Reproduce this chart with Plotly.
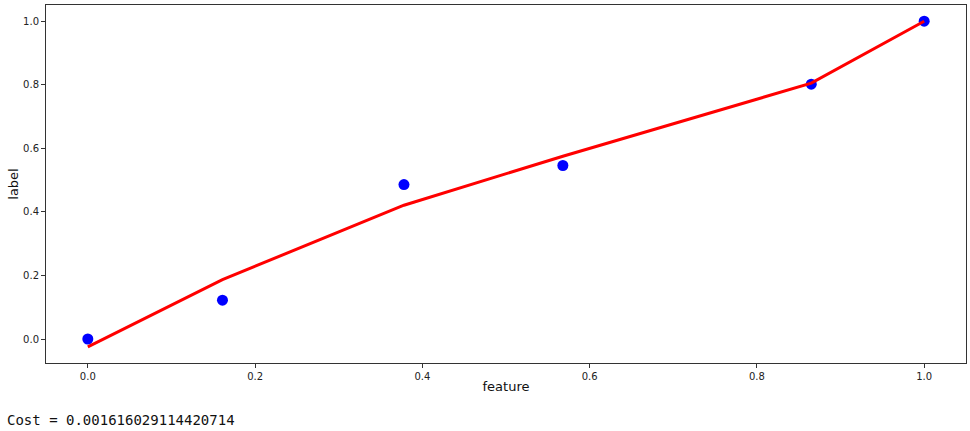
import plotly.graph_objects as go

feature = [0.0, 0.161, 0.378, 0.568, 0.865, 1.0]
label = [0.0, 0.122, 0.486, 0.546, 0.802, 1.0]
predicted = [-0.025, 0.187, 0.421, 0.575, 0.805, 1.0]
cost_text = "Cost = 0.001616029114420714"

W, H = 970, 431
L, R, T, B = 46, 4, 5, 68
pw, ph = W - L - R, H - T - B

fig = go.Figure()
fig.add_trace(go.Scatter(x=feature, y=label, mode="markers",
                         marker=dict(color="blue", size=11, line=dict(width=0)),
                         showlegend=False))
fig.add_trace(go.Scatter(x=feature, y=predicted, mode="lines",
                         line=dict(color="red", width=3), showlegend=False))

axis_common = dict(showgrid=False, zeroline=False, showline=True, linecolor="#333",
                   linewidth=1, mirror=True, ticks="outside", ticklen=4, tickwidth=1,
                   tickcolor="#333", tickformat=".1f", dtick=0.2,
                   tickfont=dict(family="DejaVu Sans", size=10, color="#222"))

fig.update_layout(
    width=W, height=H,
    margin=dict(l=L, r=R, t=T, b=B),
    plot_bgcolor="white", paper_bgcolor="white",
    xaxis=dict(range=[-0.05, 1.05], tick0=0,
               title=dict(text="feature", font=dict(family="DejaVu Sans", size=13, color="#111"), standoff=0),
               **axis_common),
    yaxis=dict(range=[-0.0755, 1.051], tick0=0,
               title=dict(text="label", font=dict(family="DejaVu Sans", size=13, color="#111"), standoff=1),
               **axis_common),
    annotations=[dict(text=cost_text, xref="paper", yref="paper",
                      x=(5 - L) / pw, y=(H - B - 420) / ph, xanchor="left", yanchor="middle",
                      showarrow=False,
                      font=dict(family="DejaVu Sans Mono", size=14, color="#111"))],
)

fig.write_html("out.html", config={"displayModeBar": False},
               post_script="document.body.style.margin='0';document.body.style.overflow='hidden';")
